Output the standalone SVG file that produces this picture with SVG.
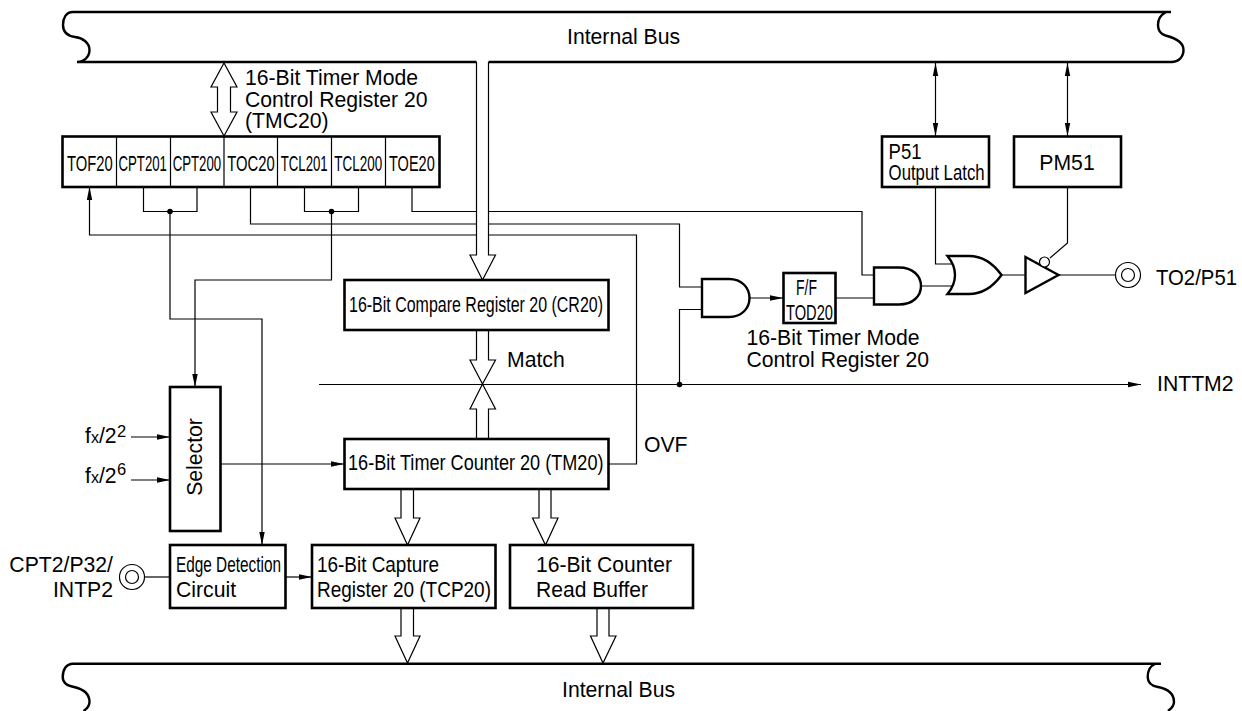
<svg xmlns="http://www.w3.org/2000/svg" width="1242" height="711" viewBox="0 0 1242 711">
<defs>
<marker id="a" markerUnits="userSpaceOnUse" markerWidth="14" markerHeight="8" refX="13" refY="4" orient="auto-start-reverse"><path d="M0 1.300L13 4L0 6.700Z" fill="#000"/></marker>
</defs>
<style>
text{font-family:"Liberation Sans",Arial,sans-serif;font-size:21.2px;fill:#000}
.b{fill:#fff;stroke:#000;stroke-width:2.6}
.l{fill:none;stroke:#000;stroke-width:1.2}
.h{fill:#fff;stroke:#000;stroke-width:1.2;stroke-linejoin:miter}
.k{fill:none;stroke:#000;stroke-width:2.4}
.g{fill:#fff;stroke:#000;stroke-width:2.4}
.p{fill:#fff;stroke:#000;stroke-width:1.2}
.d{fill:#000}
.s{font-size:16.500px}
</style>
<g id="connectors">
<path class="l" d="M143.500 187V211.500H197V187M170 211.500V319H262V545" marker-end="url(#a)"/>
<path class="l" d="M304.500 187V211.500H358.500V187M331.500 211.500V280H195V387" marker-end="url(#a)"/>
<path class="l" d="M250.500 187V224H679.500V287H702"/>
<path class="l" d="M412 187V211.500H862V275H874"/>
<path class="l" d="M609 464H636.500V235H89.500V187" marker-end="url(#a)"/>
<path class="l" d="M679.500 384.500V309.500H702"/>
<path class="l" d="M749 298H783" marker-end="url(#a)"/>
<path class="l" d="M835 298H874M921 286H955"/>
<path class="l" d="M935.500 187V264H952M1067.500 187V243L1050 258M1001.500 275H1025.500M1058.500 275H1115.500"/>
<path class="l" d="M935.500 63V136" marker-start="url(#a)" marker-end="url(#a)"/>
<path class="l" d="M1067.500 63V136" marker-start="url(#a)" marker-end="url(#a)"/>
<path class="l" d="M319 384.500H1141" marker-end="url(#a)"/>
<path class="l" d="M131 437H170" marker-end="url(#a)"/>
<path class="l" d="M131 480H170" marker-end="url(#a)"/>
<path class="l" d="M220.500 464H344" marker-end="url(#a)"/>
<path class="l" d="M285.500 577H312" marker-end="url(#a)"/>
<path class="l" d="M145 577H170"/>
<circle class="d" cx="170" cy="211.500" r="2.800"/>
<circle class="d" cx="331.500" cy="211.500" r="2.800"/>
<circle class="d" cx="679.500" cy="384.500" r="2.800"/>
<path class="h" d="M224 63L237 87H230.500V112H237L224 136L211 112H217.500V87H211Z"/>
<path class="h" d="M476.500 62V255H470L482.500 280L495.500 255H488.500V62"/>
<path class="h" d="M476.500 330V360H470L482.500 384L495.500 360H488.500V330"/>
<path class="h" d="M476.500 439V409H470L482.500 384L495.500 409H488.500V439"/>
<path class="h" d="M401 489V518H395L407.500 545L420 518H413.500V489"/>
<path class="h" d="M539 489V518H532.500L545.500 545L558 518H551V489"/>
<path class="h" d="M401 608V636H395L407.500 663L420 636H413.500V608"/>
<path class="h" d="M597 608V636H590.500L603 663L616 636H609V608"/>
</g>
<g id="top-bus">
<path class="k" d="M476.500 62H77C84 62 89.500 57 89.500 50C89.500 43 83 38 75 37C68 36 63 32 63 25C63 18 66 12 73 12H1171M1165.500 12.500C1160.500 15 1158 20 1158 25C1158 30 1160.500 34 1165.500 35.500C1175.500 38 1183.500 42 1183.500 50C1183.500 57 1178.500 62 1171.500 62H488.500"/>
<text x="567" y="44">Internal Bus</text>
</g>
<g id="bottom-bus">
<path class="k" d="M73 663.700H1161M73 663.700C66 663.700 62.700 670 62.700 677C62.700 683 68 686 74 687C83 689 89.500 694 89.500 702C89.500 705 88 708 83.500 711"/>
<path class="k" d="M1155 664C1150 666 1147.700 671 1147.700 677C1147.700 683 1152 686 1158 687C1168 689 1174 694 1174 702C1174 705 1172 708 1168 711"/>
<text x="562" y="697">Internal Bus</text>
</g>
<g id="tmc20">
<rect class="b" x="62.500" y="136.500" width="377" height="50.500"/>
<path class="l" d="M116.500 137V187M170.500 137V187M224 137V187M277.500 137V187M331.500 137V187M385.500 137V187"/>
<text transform="translate(67 171) scale(.697 1)">TOF20</text>
<text transform="translate(118.500 171) scale(.623 1)">CPT201</text>
<text transform="translate(172.700 171) scale(.623 1)">CPT200</text>
<text transform="translate(227.300 171) scale(.698 1)">TOC20</text>
<text transform="translate(280.700 171) scale(.623 1)">TCL201</text>
<text transform="translate(334.300 171) scale(.635 1)">TCL200</text>
<text transform="translate(389 171) scale(.685 1)">TOE20</text>
</g>
<g id="tmc20-label">
<text x="245" y="85">16-Bit Timer Mode</text>
<text x="245" y="107">Control Register 20</text>
<text x="245" y="128">(TMC20)</text>
</g>
<g id="p51"><rect class="b" x="882" y="136.500" width="107" height="50.500"/>
<text x="888.600" y="159" textLength="33" lengthAdjust="spacingAndGlyphs">P51</text>
<text x="888.600" y="180" textLength="96" lengthAdjust="spacingAndGlyphs">Output Latch</text></g>
<g id="pm51"><rect class="b" x="1014" y="136.500" width="107" height="50.500"/>
<text x="1067" y="170" text-anchor="middle">PM51</text></g>
<g id="compare"><rect class="b" x="344.500" y="280" width="264" height="50"/>
<text x="349" y="312" textLength="254" lengthAdjust="spacingAndGlyphs">16-Bit Compare Register 20 (CR20)</text></g>
<g id="counter"><rect class="b" x="344.500" y="439" width="264" height="50"/>
<text x="348" y="470" textLength="255.500" lengthAdjust="spacingAndGlyphs">16-Bit Timer Counter 20 (TM20)</text></g>
<g id="selector"><rect class="b" x="170" y="387" width="50.500" height="144"/>
<text transform="translate(202 457) rotate(-90)" text-anchor="middle">Selector</text></g>
<g id="edge"><rect class="b" x="170" y="545" width="115.500" height="63"/>
<text x="176" y="572" textLength="105" lengthAdjust="spacingAndGlyphs">Edge Detection</text>
<text x="176" y="597">Circuit</text></g>
<g id="capture"><rect class="b" x="312" y="545" width="183.500" height="63"/>
<text x="317" y="572" textLength="122" lengthAdjust="spacingAndGlyphs">16-Bit Capture</text>
<text x="317" y="597" textLength="174" lengthAdjust="spacingAndGlyphs">Register 20 (TCP20)</text></g>
<g id="readbuf"><rect class="b" x="510" y="545" width="183" height="63"/>
<text x="536" y="572" textLength="136" lengthAdjust="spacingAndGlyphs">16-Bit Counter</text>
<text x="536" y="597" textLength="112" lengthAdjust="spacingAndGlyphs">Read Buffer</text></g>
<g id="and1"><path class="g" d="M702 279H729C742 279 749.500 288 749.500 298C749.500 308 742 317 729 317H702Z"/></g>
<g id="ff"><rect class="b" x="783.500" y="273" width="52" height="50"/>
<text x="806.500" y="295" text-anchor="middle" textLength="21" lengthAdjust="spacingAndGlyphs">F/F</text>
<text x="809.500" y="319.500" text-anchor="middle" textLength="47" lengthAdjust="spacingAndGlyphs">TOD20</text></g>
<g id="and2"><path class="g" d="M874 267.500H899C913 267.500 921 276 921 286C921 296 913 304.500 899 304.500H874Z"/></g>
<g id="or"><path class="g" d="M947.500 256H969C985 256 995 266 1001.500 275C995 284 985 294 969 294H947.500C957.500 282 957.500 268 947.500 256Z"/></g>
<g id="buffer"><path class="g" d="M1025.500 257L1058.500 275L1025.500 293Z"/><circle class="p" cx="1044.500" cy="262" r="5"/></g>
<g id="pin-to2"><circle class="p" cx="1128" cy="275" r="12.500"/><circle class="p" cx="1128" cy="275" r="6.500"/>
<text x="1156" y="285" textLength="81" lengthAdjust="spacingAndGlyphs">TO2/P51</text></g>
<g id="pin-cpt2"><circle class="p" cx="132" cy="577" r="12.500"/><circle class="p" cx="132" cy="577" r="6.500"/>
<text x="113" y="572" text-anchor="end">CPT2/P32/</text>
<text x="113" y="597" text-anchor="end">INTP2</text></g>
<g id="labels">
<text x="746.500" y="345">16-Bit Timer Mode</text>
<text x="746.500" y="367">Control Register 20</text>
<text x="1157" y="391">INTTM2</text>
<text x="507" y="367">Match</text>
<text x="644" y="452">OVF</text>
<text x="85" y="443">f<tspan font-size="16">x</tspan>/2</text>
<text class="s" x="117" y="437">2</text>
<text x="85" y="483">f<tspan font-size="16">x</tspan>/2</text>
<text class="s" x="117" y="475">6</text>
</g>
</svg>
